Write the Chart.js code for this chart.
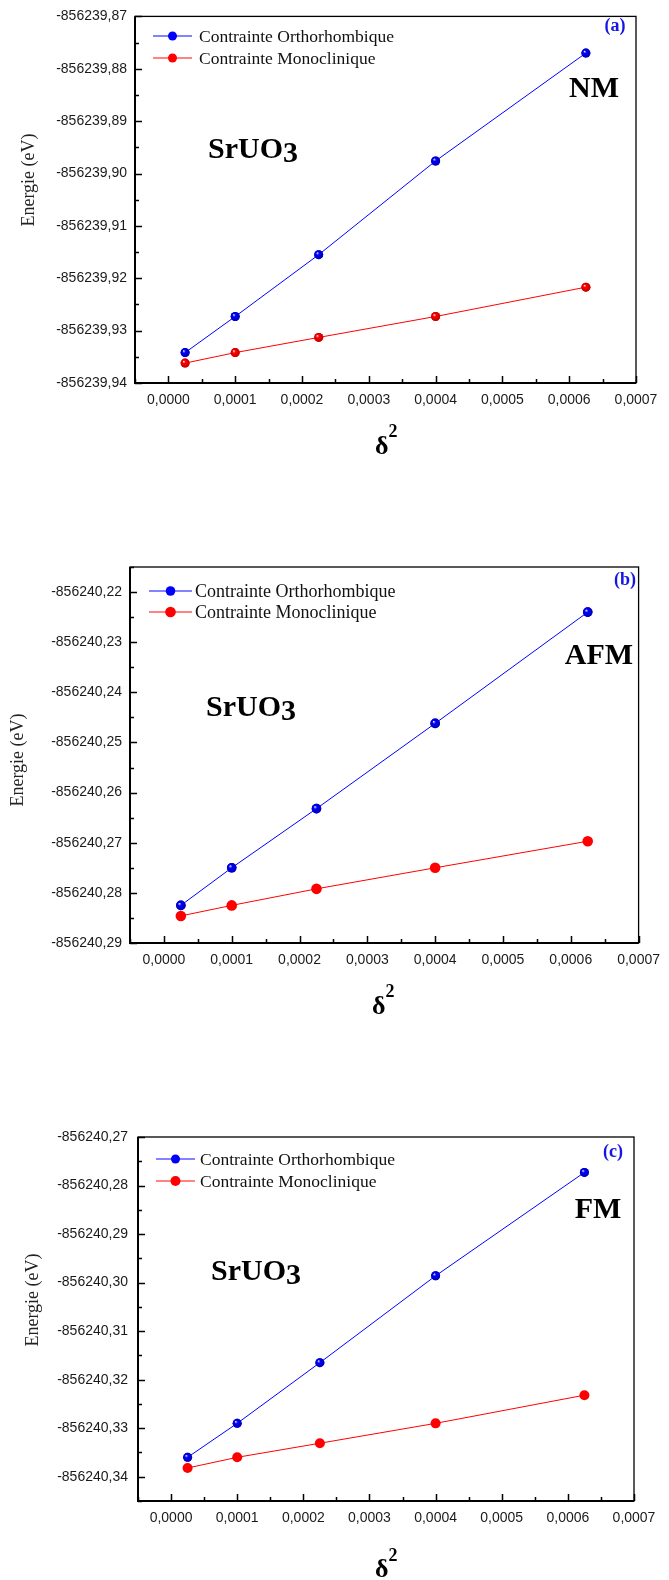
<!DOCTYPE html>
<html>
<head>
<meta charset="utf-8">
<script src="https://cdn.jsdelivr.net/npm/chart.js@4.4.0/dist/chart.umd.min.js"></script>
<style>
  body { margin: 0; background: #fff; }
  canvas { position: absolute; left: 0; }
</style>
</head>
<body>
<canvas id="chart-nm" width="669" height="480" style="top:0px"></canvas>
<canvas id="chart-afm" width="669" height="560" style="top:480px"></canvas>
<canvas id="chart-fm" width="669" height="540" style="top:1040px"></canvas>
<script>
// delta^2 values (x axis), same for the three panels
const deltaSq = [0.000025, 0.0001, 0.000225, 0.0004, 0.000625];
const seriesNames = ['Contrainte Orthorhombique', 'Contrainte Monoclinique'];

// energies (eV)
const nmOrtho  = [-856239.9342, -856239.9273, -856239.9155, -856239.8976, -856239.8770];
const nmMono   = [-856239.9362, -856239.9342, -856239.9313, -856239.9273, -856239.9217];
const afmOrtho = [-856240.2825, -856240.2750, -856240.2632, -856240.2462, -856240.2240];
const afmMono  = [-856240.2846, -856240.2825, -856240.2792, -856240.2750, -856240.2697];
const fmOrtho  = [-856240.3360, -856240.3290, -856240.3165, -856240.2986, -856240.2773];
const fmMono   = [-856240.3382, -856240.3360, -856240.3331, -856240.3290, -856240.3232];

// axis ticks
const xTicks = [0, 0.0001, 0.0002, 0.0003, 0.0004, 0.0005, 0.0006, 0.0007];
const xTickLabels = ['0,0000', '0,0001', '0,0002', '0,0003', '0,0004', '0,0005', '0,0006', '0,0007'];
const yTicksNM = [-856239.94, -856239.93, -856239.92, -856239.91, -856239.90, -856239.89, -856239.88, -856239.87];
const yLabelsNM = ['-856239,94', '-856239,93', '-856239,92', '-856239,91', '-856239,90', '-856239,89', '-856239,88', '-856239,87'];
const yTicksAFM = [-856240.29, -856240.28, -856240.27, -856240.26, -856240.25, -856240.24, -856240.23, -856240.22];
const yLabelsAFM = ['-856240,29', '-856240,28', '-856240,27', '-856240,26', '-856240,25', '-856240,24', '-856240,23', '-856240,22'];
const yTicksFM = [-856240.34, -856240.33, -856240.32, -856240.31, -856240.30, -856240.29, -856240.28, -856240.27];
const yLabelsFM = ['-856240,34', '-856240,33', '-856240,32', '-856240,31', '-856240,30', '-856240,29', '-856240,28', '-856240,27'];

const BLUE = '#0000ff';
const RED = '#ff0000';
const SERIF = '"Liberation Serif", "Times New Roman", serif';

Chart.defaults.font.family = '"Liberation Sans", Arial, sans-serif';
Chart.defaults.color = '#1a1a1a';

// frame, inward ticks, legend and annotations
const decorPlugin = {
  id: 'decor',
  afterDatasetsDraw(chart, args, o) {
    const ctx = chart.ctx;
    ctx.save();
    chart.data.datasets.forEach((ds, di) => {
      if (!o.shine[di]) return;
      chart.getDatasetMeta(di).data.forEach(p => {
        const r = ds.pointRadius;
        const g = ctx.createRadialGradient(p.x - r * 0.35, p.y - r * 0.4, 0, p.x, p.y, r);
        g.addColorStop(0, 'rgba(255,255,255,0.95)');
        g.addColorStop(0.35, ds.borderColor);
        g.addColorStop(1, di === 0 ? '#0000b0' : '#c00000');
        ctx.fillStyle = g;
        ctx.beginPath();
        ctx.arc(p.x, p.y, r, 0, Math.PI * 2);
        ctx.fill();
      });
    });
    ctx.restore();
  },
  afterDraw(chart, args, o) {
    const { ctx, chartArea: a } = chart;
    const x = chart.scales.x, y = chart.scales.y;
    ctx.save();
    ctx.strokeStyle = '#000';
    ctx.lineWidth = 1.3;
    ctx.strokeRect(a.left, a.top, a.right - a.left, a.bottom - a.top);
    ctx.lineWidth = 2;
    ctx.beginPath();
    ctx.moveTo(a.left, a.top);
    ctx.lineTo(a.left, a.bottom);
    ctx.lineTo(a.right, a.bottom);
    ctx.stroke();

    // ticks (major + minor at half steps)
    ctx.lineWidth = 1.5;
    const marks = (scale) => {
      const vals = scale.ticks.map(t => t.value);
      const step = vals[1] - vals[0];
      const out = vals.map(v => [v, 7]);
      for (let i = -1; i < vals.length; i++) {
        const m = vals[0] + (i + 0.5) * step;
        if (m >= scale.min - 1e-12 && m <= scale.max + 1e-12) out.push([m, 4]);
      }
      return out;
    };
    ctx.beginPath();
    marks(x).forEach(([v, len]) => {
      const px = Math.round(x.getPixelForValue(v)) + 0.5;
      ctx.moveTo(px, a.bottom);
      ctx.lineTo(px, a.bottom - len);
    });
    marks(y).forEach(([v, len]) => {
      const py = Math.round(y.getPixelForValue(v)) + 0.5;
      ctx.moveTo(a.left, py);
      ctx.lineTo(a.left + len, py);
    });
    ctx.stroke();

    // legend
    const L = o.legend;
    chart.data.datasets.forEach((ds, di) => {
      const ly = L.y + di * L.gap;
      ctx.strokeStyle = di === 0 ? '#5a5aff' : '#ff5a5a';
      ctx.lineWidth = 1.3;
      ctx.beginPath();
      ctx.moveTo(L.x, ly);
      ctx.lineTo(L.x + L.w, ly);
      ctx.stroke();
      ctx.fillStyle = ds.borderColor;
      ctx.beginPath();
      ctx.arc(L.x + L.w / 2, ly, ds.pointRadius, 0, Math.PI * 2);
      ctx.fill();
      ctx.fillStyle = '#111';
      ctx.font = L.size + 'px ' + SERIF;
      ctx.textAlign = 'left';
      ctx.textBaseline = 'middle';
      ctx.fillText(ds.label, L.textX, ly + 1);
    });

    // annotations
    ctx.textBaseline = 'alphabetic';
    ctx.fillStyle = '#000';
    ctx.font = 'bold 30px ' + SERIF;
    ctx.textAlign = 'left';
    ctx.fillText('SrUO', o.formula.x, o.formula.y);
    const w = ctx.measureText('SrUO').width;
    ctx.fillText('3', o.formula.x + w, o.formula.y + 4);

    ctx.textAlign = 'center';
    ctx.fillText(o.phase.text, o.phase.x, o.phase.y);

    ctx.fillStyle = '#1515e6';
    ctx.font = 'bold 18px ' + SERIF;
    ctx.fillText(o.tag.text, o.tag.x, o.tag.y);

    // axis titles
    ctx.fillStyle = '#222';
    ctx.font = '18px ' + SERIF;
    ctx.save();
    ctx.translate(o.yTitle.x, o.yTitle.y);
    ctx.rotate(-Math.PI / 2);
    ctx.textAlign = 'center';
    ctx.textBaseline = 'middle';
    ctx.fillText('Energie (eV)', 0, 0);
    ctx.restore();

    ctx.fillStyle = '#000';
    ctx.textAlign = 'left';
    ctx.textBaseline = 'alphabetic';
    ctx.font = 'bold 26px ' + SERIF;
    ctx.fillText('δ', o.xTitle.x, o.xTitle.y);
    const dw = ctx.measureText('δ').width;
    ctx.font = 'bold 18px ' + SERIF;
    ctx.fillText('2', o.xTitle.x + dw, o.xTitle.supY);
    ctx.restore();
  }
};

function buildChart(canvasId, c) {
  const mk = (vals) => deltaSq.map((d, i) => ({ x: d, y: vals[i] }));
  return new Chart(document.getElementById(canvasId), {
    type: 'line',
    data: {
      datasets: [
        {
          label: seriesNames[0],
          data: mk(c.ortho),
          borderColor: BLUE,
          backgroundColor: BLUE,
          pointBackgroundColor: BLUE,
          borderWidth: 1,
          pointRadius: c.r[0],
          pointBorderWidth: 0,
          tension: 0
        },
        {
          label: seriesNames[1],
          data: mk(c.mono),
          borderColor: RED,
          backgroundColor: RED,
          pointBackgroundColor: RED,
          borderWidth: 1,
          pointRadius: c.r[1],
          pointBorderWidth: 0,
          tension: 0
        }
      ]
    },
    options: {
      responsive: false,
      animation: false,
      devicePixelRatio: 1,
      layout: { padding: c.pad },
      plugins: {
        legend: { display: false },
        tooltip: { enabled: false },
        decor: c.decor
      },
      scales: {
        x: {
          type: 'linear',
          min: -0.00005,
          max: 0.0007,
          grid: { display: false, drawTicks: false },
          border: { display: false },
          afterBuildTicks: s => { s.ticks = xTicks.map(v => ({ value: v })); },
          afterFit: s => { s.height = 30; },
          ticks: {
            padding: 9,
            autoSkip: false,
            maxRotation: 0,
            font: { size: 14 },
            callback: (v, i) => xTickLabels[i]
          }
        },
        y: {
          type: 'linear',
          min: c.yMin,
          max: c.yMax,
          grid: { display: false, drawTicks: false },
          border: { display: false },
          afterBuildTicks: s => { s.ticks = c.yTicks.map(v => ({ value: v })); },
          afterFit: s => { s.width = c.yWidth; },
          ticks: {
            padding: c.yPad,
            autoSkip: false,
            font: { size: 14 },
            callback: (v, i) => c.yLabels[i]
          }
        }
      }
    },
    plugins: [decorPlugin]
  });
}

buildChart('chart-nm', {
  ortho: nmOrtho, mono: nmMono, r: [4.5, 4.5],
  yMin: -856239.94, yMax: -856239.87, yTicks: yTicksNM, yLabels: yLabelsNM,
  pad: { left: 0, top: 14, right: 33, bottom: 67 }, yWidth: 135, yPad: 8,
  decor: {
    shine: [true, true],
    legend: { x: 153, y: 36, gap: 22, w: 39, textX: 199, size: 17.5 },
    formula: { x: 208, y: 158 },
    phase: { text: 'NM', x: 594, y: 97 },
    tag: { text: '(a)', x: 615, y: 31 },
    yTitle: { x: 29, y: 180 },
    xTitle: { x: 375, y: 454, supY: 437 }
  }
});

buildChart('chart-afm', {
  ortho: afmOrtho, mono: afmMono, r: [4.8, 5.3],
  yMin: -856240.29, yMax: -856240.215, yTicks: yTicksAFM, yLabels: yLabelsAFM,
  pad: { left: 0, top: 87, right: 24, bottom: 67 }, yWidth: 130, yPad: 8,
  decor: {
    shine: [true, false],
    legend: { x: 149, y: 111, gap: 21, w: 43, textX: 195, size: 18 },
    formula: { x: 206, y: 236 },
    phase: { text: 'AFM', x: 599, y: 184 },
    tag: { text: '(b)', x: 625, y: 105 },
    yTitle: { x: 18, y: 280 },
    xTitle: { x: 372, y: 534, supY: 517 }
  }
});

buildChart('chart-fm', {
  ortho: fmOrtho, mono: fmMono, r: [4.5, 5],
  yMin: -856240.345, yMax: -856240.27, yTicks: yTicksFM, yLabels: yLabelsFM,
  pad: { left: 0, top: 97, right: 35, bottom: 49 }, yWidth: 138, yPad: 10,
  decor: {
    shine: [true, false],
    legend: { x: 156, y: 119, gap: 22, w: 39, textX: 200, size: 17.5 },
    formula: { x: 211, y: 240 },
    phase: { text: 'FM', x: 598, y: 178 },
    tag: { text: '(c)', x: 613, y: 117 },
    yTitle: { x: 33, y: 260 },
    xTitle: { x: 375, y: 537, supY: 521 }
  }
});
</script>
</body>
</html>
